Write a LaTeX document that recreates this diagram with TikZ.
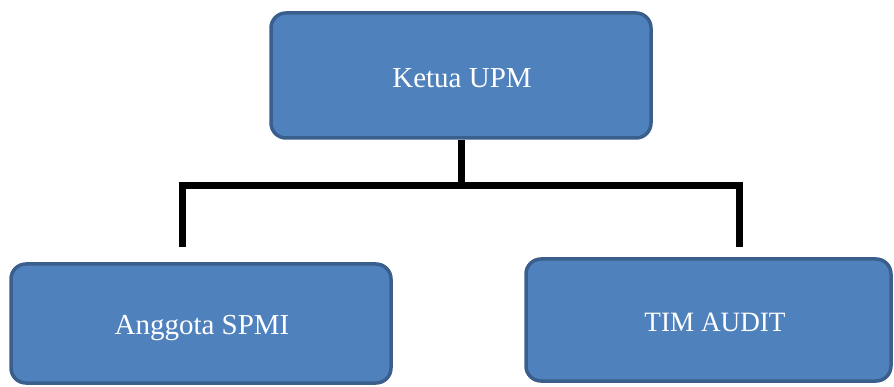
\documentclass[tikz,border=0pt]{standalone}
\usepackage{fontspec}
\setmainfont{Liberation Serif}
\definecolor{boxfill}{HTML}{4F81BD}
\definecolor{boxedge}{HTML}{3B5F8D}
\begin{document}
\begin{tikzpicture}[x=1pt,y=-1pt,
  orgbox/.style={draw=boxedge, fill=boxfill, line width=3.5pt, rounded corners=15pt,
    text=white, font=\fontsize{29}{34}\selectfont, inner sep=0pt},
  link/.style={line width=7pt, black, line join=miter},
  linkshadow/.style={line width=7pt, black!35, opacity=0.5, line join=miter}]
\useasboundingbox (0,0) rectangle (894,387);
\node[orgbox, minimum width=380pt, minimum height=125pt] (ketua) at (461,75.5) {};
\node[text=white, font=\fontsize{29}{34}\selectfont] (ketuat) at (462,78) {Ketua UPM};
\node[orgbox, minimum width=380pt, minimum height=119pt] (anggota) at (201,323.5) {};
\node[text=white, font=\fontsize{29}{34}\selectfont] (anggotat) at (202,328) {Anggota SPMI};
\node[orgbox, minimum width=365pt, minimum height=122pt] (audit) at (708.5,320) {};
\node[text=white, font=\fontsize{28}{33}\selectfont, xscale=0.97] (auditt) at (715,322) {TIM AUDIT};
\coordinate (bl) at (182,186);
\coordinate (br) at (739,186);
\coordinate (lend) at (182,247);
\coordinate (rend) at (739,247);
\coordinate (mid) at (ketua.south |- bl);
% shadows
\begin{scope}[shift={(1.5,2.5)}]
\draw[linkshadow] (lend) -- (bl) -- (br) -- (rend);
\draw[linkshadow] (ketua.south) -- (mid);
\end{scope}
\draw[link] (ketua.south) -- (mid);
\draw[link] (lend) -- (bl) -- (br) -- (rend);
\end{tikzpicture}
\end{document}
